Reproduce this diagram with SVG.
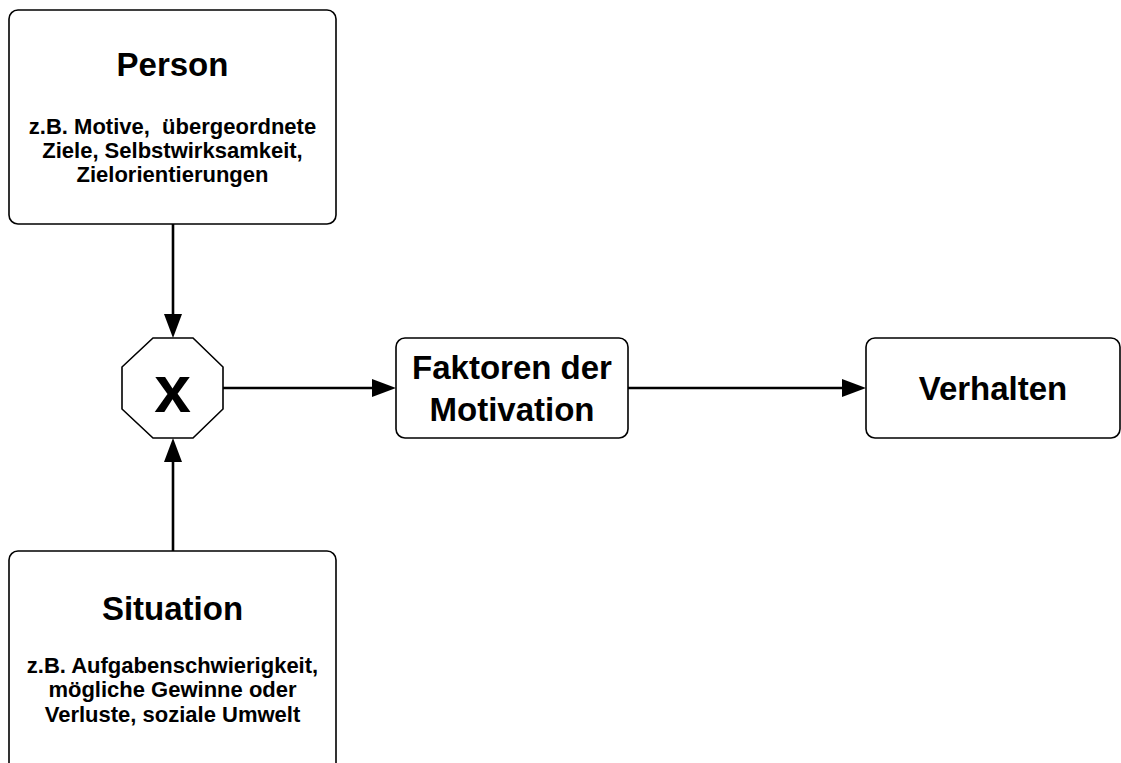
<svg xmlns="http://www.w3.org/2000/svg" width="1121" height="763" viewBox="0 0 1121 763">
  <style>
    .box { fill: #ffffff; stroke: #000000; stroke-width: 1.6; }
    .edge { fill: none; stroke: #000000; stroke-width: 2.6; }
    .title { font-family: "Liberation Sans", Arial, sans-serif; font-weight: bold; font-size: 33px; text-anchor: middle; fill: #000000; }
    .sub { font-family: "Liberation Sans", Arial, sans-serif; font-weight: bold; font-size: 22px; text-anchor: middle; fill: #000000; }
    .op { font-family: "Liberation Sans", Arial, sans-serif; font-weight: bold; font-size: 66px; text-anchor: middle; fill: #000000; }
  </style>
  <defs>
    <marker id="head" markerUnits="userSpaceOnUse" markerWidth="24" markerHeight="18" refX="0" refY="9" orient="auto" overflow="visible">
      <path d="M0,0 L24,9 L0,18 Z" fill="#000000"/>
    </marker>
  </defs>
  <rect width="1121" height="763" fill="#ffffff"/>

  <!-- connectors -->
  <g id="connectors">
    <line class="edge" x1="173" y1="224" x2="173" y2="314" marker-end="url(#head)"/>
    <line class="edge" x1="173" y1="551" x2="173" y2="462" marker-end="url(#head)"/>
    <line class="edge" x1="223" y1="388" x2="372" y2="388" marker-end="url(#head)"/>
    <line class="edge" x1="628" y1="388" x2="842" y2="388" marker-end="url(#head)"/>
  </g>

  <!-- Person -->
  <g id="person">
    <rect class="box" x="9" y="10" width="327" height="214" rx="9"/>
    <text class="title" x="172.5" y="76">Person</text>
    <text class="sub" x="172.5" y="134" xml:space="preserve">z.B. Motive,  übergeordnete</text>
    <text class="sub" x="172.5" y="158">Ziele, Selbstwirksamkeit,</text>
    <text class="sub" x="172.5" y="182">Zielorientierungen</text>
  </g>

  <!-- multiplication operator -->
  <g id="interaction">
    <polygon class="box" points="153,338 193,338 223,367 223,409 193,438 153,438 122,409 122,367"/>
    <text class="op" x="172.5" y="412">x</text>
  </g>

  <!-- Faktoren der Motivation -->
  <g id="faktoren">
    <rect class="box" x="396" y="338" width="232" height="100" rx="9"/>
    <text class="title" x="512" y="379">Faktoren der</text>
    <text class="title" x="512" y="421">Motivation</text>
  </g>

  <!-- Verhalten -->
  <g id="verhalten">
    <rect class="box" x="866" y="338" width="254" height="100" rx="9"/>
    <text class="title" x="993" y="400">Verhalten</text>
  </g>

  <!-- Situation -->
  <g id="situation">
    <rect class="box" x="9" y="551" width="327" height="240" rx="9"/>
    <text class="title" x="172.5" y="620">Situation</text>
    <text class="sub" x="172.5" y="673">z.B. Aufgabenschwierigkeit,</text>
    <text class="sub" x="172.5" y="697">mögliche Gewinne oder</text>
    <text class="sub" x="172.5" y="722">Verluste, soziale Umwelt</text>
  </g>
</svg>
